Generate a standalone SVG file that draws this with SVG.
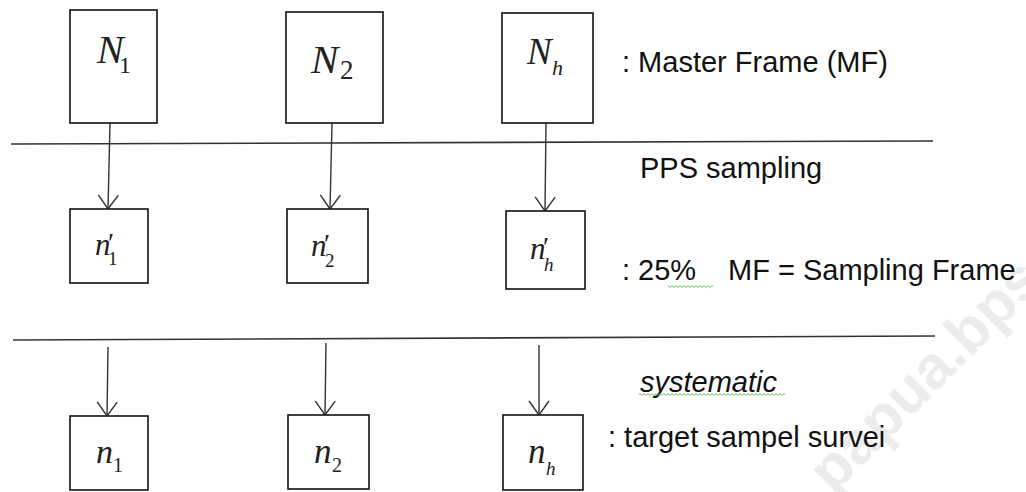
<svg xmlns="http://www.w3.org/2000/svg" width="1026" height="492" viewBox="0 0 1026 492">
<style>
.box{fill:#fff;stroke:#111;stroke-width:1.6}
.hl{stroke:#333;stroke-width:1.6;fill:none}
.ar{stroke:#333;stroke-width:1.4;fill:none;marker-end:url(#v)}
.lbl{font-family:"Liberation Sans",Arial,sans-serif;font-size:29px;fill:#111}
.m{font-family:"Liberation Serif","DejaVu Serif",serif;font-style:italic;fill:#222}
.r{font-style:normal}
.wm{font-family:"Liberation Sans",Arial,sans-serif;font-weight:bold;font-size:60px;fill:#ececec}
</style>
<defs>
<marker id="v" markerUnits="userSpaceOnUse" viewBox="0 0 16 22" refX="15" refY="11" markerWidth="16" markerHeight="22" orient="auto">
<path d="M1,1 L15,11 L1,21" fill="none" stroke="#333" stroke-width="1.4"/>
</marker>
<pattern id="sq" width="4" height="3" patternUnits="userSpaceOnUse">
<path d="M0,0.6 L2,2.4 L4,0.6" fill="none" stroke="#5cb85c" stroke-width="0.9"/>
</pattern>
</defs>
<rect width="1026" height="492" fill="#fff"/>
<text class="wm" transform="translate(833,495) rotate(-45)">papua.bps.go.id</text>
<g id="lines">
<path class="hl" d="M11,144 L933,141"/>
<path class="hl" d="M13,340 L935,336"/>
</g>
<g id="connectors">
<path class="ar" d="M110,123 L108,209"/>
<path class="ar" d="M332,123 L330,209"/>
<path class="ar" d="M546,123 L545,211"/>
<path class="ar" d="M108,347 L107,416"/>
<path class="ar" d="M326,343 L325,415"/>
<path class="ar" d="M539,345 L539,415"/>
</g>
<g id="N1">
<rect class="box" x="70" y="10" width="87" height="113"/>
<text class="m" x="97" y="63" font-size="40">N<tspan class="r" x="119" y="73" font-size="24">1</tspan></text>
</g>
<g id="N2">
<rect class="box" x="286" y="12" width="97" height="111"/>
<text class="m" x="311" y="73" font-size="41">N<tspan class="r" x="340" y="79" font-size="27">2</tspan></text>
</g>
<g id="Nh">
<rect class="box" x="502" y="13" width="91" height="110"/>
<text class="m" x="527" y="64" font-size="37">N<tspan x="552" y="75" font-size="22">h</tspan></text>
</g>
<g id="n1p">
<rect class="box" x="70" y="209" width="78" height="74"/>
<text class="m" x="95" y="255" font-size="31">n<tspan class="r" x="108" y="252" font-size="28">′</tspan><tspan class="r" x="108" y="265" font-size="19">1</tspan></text>
</g>
<g id="n2p">
<rect class="box" x="287" y="209" width="81" height="74"/>
<text class="m" x="311" y="256" font-size="31">n<tspan class="r" x="324" y="253" font-size="28">′</tspan><tspan class="r" x="325" y="267" font-size="19">2</tspan></text>
</g>
<g id="nhp">
<rect class="box" x="506" y="211" width="79" height="78"/>
<text class="m" x="530" y="259" font-size="31">n<tspan class="r" x="543" y="256" font-size="28">′</tspan><tspan x="544" y="271" font-size="19">h</tspan></text>
</g>
<g id="n1">
<rect class="box" x="70" y="416" width="78" height="74"/>
<text class="m" x="96" y="463" font-size="34">n<tspan class="r" x="113" y="472" font-size="20">1</tspan></text>
</g>
<g id="n2">
<rect class="box" x="288" y="415" width="81" height="74"/>
<text class="m" x="314" y="463" font-size="35">n<tspan class="r" x="332" y="472" font-size="20">2</tspan></text>
</g>
<g id="nh">
<rect class="box" x="503" y="415" width="80" height="75"/>
<text class="m" x="528" y="463" font-size="35">n<tspan x="546" y="475" font-size="19">h</tspan></text>
</g>
<g id="labels">
<text class="lbl" x="622" y="72">: Master Frame (MF)</text>
<text class="lbl" x="640" y="178">PPS sampling</text>
<text class="lbl" x="622" y="280">: 25%</text>
<text class="lbl" x="728" y="280">MF = Sampling Frame</text>
<rect x="668" y="285" width="45" height="3" fill="url(#sq)"/>
<text class="lbl" x="640" y="392" font-style="italic">systematic</text>
<rect x="639" y="393" width="146" height="3" fill="url(#sq)"/>
<text class="lbl" x="608" y="447">: target sampel survei</text>
</g>
</svg>
